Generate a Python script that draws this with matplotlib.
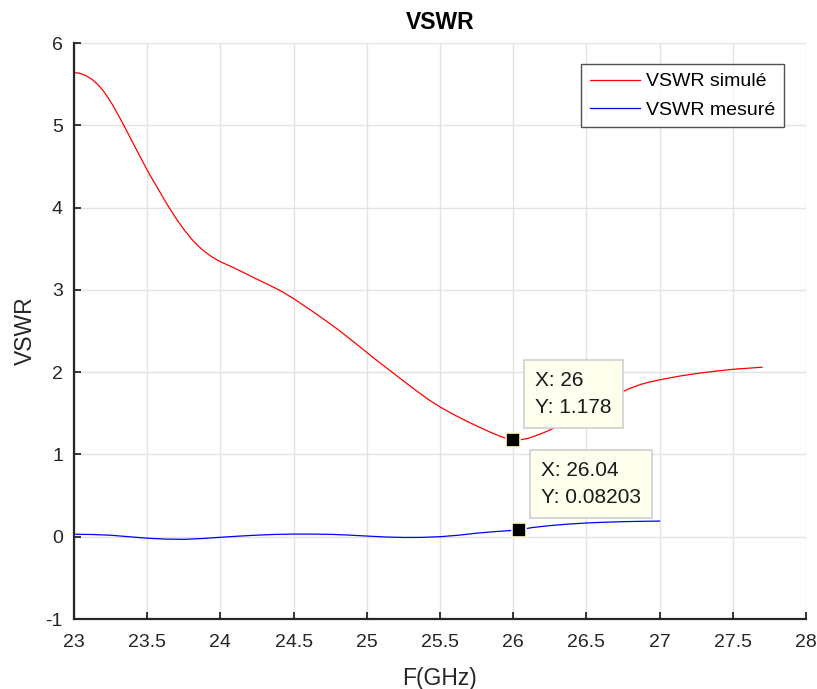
import matplotlib
matplotlib.use("Agg")
import matplotlib.pyplot as plt

plt.rcParams['font.family'] = ['Liberation Sans', 'DejaVu Sans']

# Simulated VSWR (red)
freq_sim = [23.0, 23.03, 23.06, 23.09, 23.125, 23.16, 23.193, 23.227, 23.261,
            23.296, 23.331, 23.365, 23.398, 23.45, 23.5, 23.54, 23.58, 23.614,
            23.648, 23.68, 23.716, 23.76, 23.807, 23.85, 23.898, 23.94, 23.989,
            24.04, 24.104, 24.17, 24.241, 24.32, 24.41, 24.5, 24.57, 24.638,
            24.73, 24.82, 24.91, 25.0, 25.09, 25.185, 25.265, 25.345, 25.42,
            25.5, 25.59, 25.687, 25.77, 25.846, 25.915, 25.96, 26.0, 26.056,
            26.1, 26.142, 26.21, 26.279, 26.34, 26.4, 26.5, 26.6, 26.67,
            26.74, 26.8, 26.87, 26.93, 27.0, 27.07, 27.14, 27.21, 27.28,
            27.4, 27.51, 27.6, 27.7]
vswr_sim = [5.64, 5.635, 5.62, 5.595, 5.555, 5.50, 5.435, 5.35, 5.255,
            5.145, 5.03, 4.915, 4.80, 4.625, 4.455, 4.33, 4.21, 4.105,
            4.005, 3.915, 3.82, 3.712, 3.61, 3.53, 3.457, 3.403, 3.352,
            3.31, 3.258, 3.20, 3.137, 3.07, 2.99, 2.893, 2.81, 2.728,
            2.613, 2.495, 2.368, 2.24, 2.112, 1.983, 1.873, 1.765, 1.668,
            1.578, 1.488, 1.40, 1.33, 1.268, 1.218, 1.192, 1.178, 1.18,
            1.195, 1.22, 1.265, 1.32, 1.372, 1.43, 1.53, 1.63, 1.695,
            1.755, 1.805, 1.85, 1.88, 1.906, 1.93, 1.953, 1.972, 1.99,
            2.015, 2.036, 2.047, 2.06]

# Measured VSWR (blue)
freq_mes = [23.0, 23.125, 23.25, 23.375, 23.5, 23.625, 23.75, 23.875, 24.0,
            24.125, 24.25, 24.375, 24.5, 24.625, 24.75, 24.875, 25.0, 25.125,
            25.25, 25.375, 25.5, 25.625, 25.75, 25.875, 26.04, 26.125, 26.25,
            26.375, 26.5, 26.625, 26.75, 26.875, 27.0]
vswr_mes = [0.03, 0.027, 0.018, 0.0, -0.018, -0.029, -0.032, -0.022, -0.007,
            0.007, 0.019, 0.028, 0.032, 0.032, 0.029, 0.02, 0.008, -0.003,
            -0.009, -0.008, 0.0, 0.018, 0.043, 0.062, 0.08203, 0.11, 0.135,
            0.153, 0.167, 0.176, 0.183, 0.187, 0.19]

# Data tips
tip_x = [26.0, 26.04]
tip_y = [1.178, 0.08203]
tip_labels = ["X: 26\nY: 1.178", "X: 26.04\nY: 0.08203"]

x_ticks = [23, 23.5, 24, 24.5, 25, 25.5, 26, 26.5, 27, 27.5, 28]
y_ticks = [-1, 0, 1, 2, 3, 4, 5, 6]

W, H, DPI = 817, 689, 100
fig = plt.figure(figsize=(W / DPI, H / DPI), dpi=DPI)
left, right, top, bottom = 74, 806, 43, 619
ax = fig.add_axes([left / W, (H - bottom) / H, (right - left) / W, (bottom - top) / H])

ax.plot(freq_sim, vswr_sim, color='#ff0000', lw=0.9, label='VSWR simulé')
ax.plot(freq_mes, vswr_mes, color='#0000ff', lw=0.9, label='VSWR mesuré')

ax.set_xlim(23, 28)
ax.set_ylim(-1, 6)
ax.set_xticks(x_ticks)
ax.set_xticklabels([f"{t:g}" for t in x_ticks])
ax.set_yticks(y_ticks)
ax.set_yticklabels([f"{t:g}" for t in y_ticks])

ax.grid(True, color='#e3e3e3', lw=1.0)
ax.set_axisbelow(True)
for s in ['top', 'right']:
    ax.spines[s].set_visible(False)
for s in ['left', 'bottom']:
    ax.spines[s].set_color('#262626')
    ax.spines[s].set_linewidth(1.6)
ax.tick_params(direction='in', length=5, width=1.3, color='#262626',
               labelsize=14, labelcolor='#262626', pad=8)
ax.tick_params(axis='x', pad=11)

ax.set_title('VSWR', fontsize=16.5, fontweight='bold', pad=10)
ax.set_xlabel('F(GHz)', fontsize=16.5, color='#262626', labelpad=11)
ax.set_ylabel('VSWR', fontsize=16.5, color='#262626', labelpad=6)

leg = ax.legend(loc='upper right', bbox_to_anchor=(0.970, 0.9635), fontsize=14,
                frameon=True, fancybox=False, edgecolor='#262626',
                handlelength=2.6, handletextpad=0.3, borderpad=0.45,
                labelspacing=0.55, borderaxespad=0.0)
leg.get_frame().set_linewidth(1.0)

offsets = [(16, 16.5), (16, 16.5)]
for x, y, lab, off in zip(tip_x, tip_y, tip_labels, offsets):
    ax.plot([x], [y], marker='s', ms=10.5, mfc='black', mec='#fffbd0', mew=1.2,
            zorder=6)
    ax.annotate(lab, xy=(x, y), xytext=off, textcoords='offset points',
                ha='left', va='bottom', fontsize=15, color='#1a1a1a',
                linespacing=1.55, zorder=5,
                bbox=dict(boxstyle='square,pad=0.53', fc='#ffffee',
                          ec='#d0d0d0', lw=1.2))

fig.savefig('out.png', dpi=DPI)
